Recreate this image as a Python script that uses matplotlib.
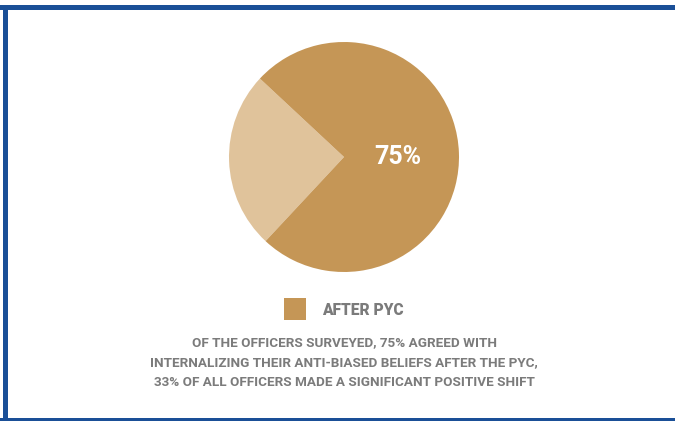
import matplotlib.pyplot as plt
from matplotlib.patches import Rectangle

labels = ["Before", "After PYC"]
values = [25, 75]
colors = ["#e0c39b", "#c59656"]
value_label = "75%"
legend_label = "AFTER PYC"
caption_lines = [
    "OF THE OFFICERS SURVEYED, 75% AGREED WITH",
    "INTERNALIZING THEIR ANTI-BIASED BELIEFS AFTER THE PYC,",
    "33% OF ALL OFFICERS MADE A SIGNIFICANT POSITIVE SHIFT",
]

W, H = 675, 421
fig = plt.figure(figsize=(W / 100, H / 100), dpi=100)
fig.patch.set_facecolor("white")

# pie axes: centre (344,157), radius 115 px
r = 115
cx, cy = 344, 157
ax = fig.add_axes([(cx - r) / W, 1 - (cy + r) / H, 2 * r / W, 2 * r / H])
ax.pie(values, colors=colors, startangle=137, counterclock=True,
       wedgeprops=dict(linewidth=0))
ax.set_aspect("equal")
ax.set_xlim(-1, 1)
ax.set_ylim(-1, 1)
ax.axis("off")
ax.text(0.47, 0.0, value_label, ha="center", va="center", color="white",
        fontsize=18, fontweight="bold", family="Roboto")

# blue frame on top, left, bottom
blue = "#1a4f97"
fig.add_artist(Rectangle((0, 1 - 10 / H), 1, 5 / H, transform=fig.transFigure,
                         color=blue, lw=0))
fig.add_artist(Rectangle((3 / W, 0), 5 / W, 1 - 5 / H, transform=fig.transFigure,
                         color=blue, lw=0))
fig.add_artist(Rectangle((0, 0), 1, 3 / H, transform=fig.transFigure,
                         color=blue, lw=0))

# legend
fig.add_artist(Rectangle((284 / W, 1 - 320 / H), 22 / W, 22 / H,
                         transform=fig.transFigure, color=colors[1], lw=0))
gray = "#7b7b7b"
fig.text(322 / W, 1 - 310 / H, legend_label, ha="left", va="center",
         color=gray, fontsize=11.2, fontweight="black", family="Roboto")

# caption
for i, line in enumerate(caption_lines):
    fig.text(344 / W, 1 - (343 + 19.5 * i) / H, line, ha="center", va="center",
             color=gray, fontsize=9.7, fontweight="bold", family="Roboto")

fig.savefig("out.png", dpi=100, facecolor="white")
